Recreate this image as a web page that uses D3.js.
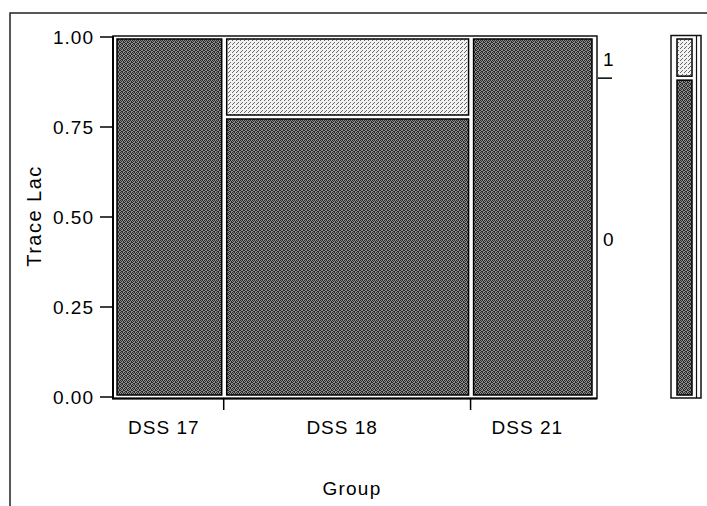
<!DOCTYPE html>
<html>
<head>
<meta charset="utf-8">
<script src="https://cdn.jsdelivr.net/npm/d3@7"></script>
<style>
  html, body { margin: 0; padding: 0; background: #fff; }
  svg { display: block; }
  text { font-family: "Liberation Sans", Arial, sans-serif; fill: #000; }
</style>
</head>
<body>
<div id="chart"></div>
<script>
// ---- data ----
const groups = ["DSS 17", "DSS 18", "DSS 21"];
const levels = ["0", "1"];                 // Trace Lac levels (bottom to top)
const counts0 = [8, 14, 9];                // Trace Lac = 0
const counts1 = [0, 4, 0];                 // Trace Lac = 1
const yTicks = [0, 0.25, 0.5, 0.75, 1.0];
const yTickLabels = ["0.00", "0.25", "0.50", "0.75", "1.00"];
const xTitle = "Group";
const yTitle = "Trace Lac";

// ---- derived ----
const totals = groups.map((g, i) => counts0[i] + counts1[i]);
const N = d3.sum(totals);
let acc = 0;
const cols = groups.map((g, i) => {
  const c = { name: g, start: acc, n: totals[i], c0: counts0[i], c1: counts1[i] };
  acc += totals[i];
  return c;
});
const marg0 = d3.sum(counts0) / N;

const W = 707, H = 506;
const svg = d3.select("#chart").append("svg").attr("width", W).attr("height", H);

// patterns (dither look)
const defs = svg.append("defs");
const pd = defs.append("pattern").attr("id", "dark").attr("width", 4).attr("height", 4)
  .attr("patternUnits", "userSpaceOnUse");
pd.append("rect").attr("width", 4).attr("height", 4).attr("fill", "#8c8c8c");
[[0,0],[2,0],[1,1],[3,2],[0,2],[2,3],[1,3],[3,1]].forEach(([a,b]) =>
  pd.append("rect").attr("x", a).attr("y", b).attr("width", 1).attr("height", 1).attr("fill", "#2a2a2a"));
const pl = defs.append("pattern").attr("id", "light").attr("width", 4).attr("height", 4)
  .attr("patternUnits", "userSpaceOnUse");
pl.append("rect").attr("width", 4).attr("height", 4).attr("fill", "#f2f2f2");
[[0,0],[2,2],[1,3]].forEach(([a,b]) =>
  pl.append("rect").attr("x", a).attr("y", b).attr("width", 1).attr("height", 1).attr("fill", "#6a6a6a"));

// outer frame
svg.append("path").attr("d", `M10,506 L10,13 L707,13`).attr("fill", "none")
  .attr("stroke", "#222").attr("stroke-width", 1.5);

// scales
const x = d3.scaleLinear().domain([0, N]).range([114, 594]);
const y = d3.scaleLinear().domain([0, 1]).range([397, 37]);
const inset = 2;

// plot box
svg.append("rect").attr("x", 113).attr("y", 36).attr("width", 484).attr("height", 362.5)
  .attr("fill", "#fff").attr("stroke", "#111").attr("stroke-width", 1.5);
svg.append("path").attr("d", "M113,36 L113,398.5 L597,398.5").attr("fill", "none")
  .attr("stroke", "#000").attr("stroke-width", 2);

// cells
const cells = [];
cols.forEach(c => {
  const f0 = c.c0 / c.n, f1 = c.c1 / c.n;
  if (f0 > 0) cells.push({ col: c, lo: 0, hi: f0, lvl: 0 });
  if (f1 > 0) cells.push({ col: c, lo: f0, hi: f0 + f1, lvl: 1 });
});
svg.append("g").selectAll("rect").data(cells).join("rect")
  .attr("x", d => x(d.col.start) + inset + 1)
  .attr("width", d => x(d.col.start + d.col.n) - x(d.col.start) - 2 * inset - 1)
  .attr("y", d => y(d.hi) + inset)
  .attr("height", d => y(d.lo) - y(d.hi) - 2 * inset)
  .attr("fill", d => d.lvl === 0 ? "url(#dark)" : "url(#light)")
  .attr("stroke", "#000").attr("stroke-width", 1.5);

// y axis ticks + labels
const ya = svg.append("g");
ya.selectAll("line").data(yTicks).join("line")
  .attr("x1", 100).attr("x2", 113).attr("y1", d => y(d)).attr("y2", d => y(d))
  .attr("stroke", "#000").attr("stroke-width", 1.5);
ya.selectAll("text").data(yTicks).join("text")
  .attr("x", 94).attr("y", d => y(d)).attr("dy", "0.35em")
  .attr("text-anchor", "end").attr("font-size", 19).attr("letter-spacing", 1)
  .text((d, i) => yTickLabels[i]);

// x axis ticks (boundaries between groups)
const bounds = cols.slice(1).map(c => c.start);
svg.append("g").selectAll("line").data(bounds).join("line")
  .attr("x1", d => x(d)).attr("x2", d => x(d)).attr("y1", 398).attr("y2", 410)
  .attr("stroke", "#000").attr("stroke-width", 1.5);
svg.append("g").selectAll("text").data(cols).join("text")
  .attr("x", d => x(d.start + d.n / 2) - 5).attr("y", 427).attr("dy", "0.35em")
  .attr("text-anchor", "middle").attr("font-size", 19).attr("letter-spacing", 1)
  .text(d => d.name);

// right axis (marginal)
svg.append("line").attr("x1", 598).attr("x2", 612).attr("y1", y(marg0)).attr("y2", y(marg0))
  .attr("stroke", "#000").attr("stroke-width", 1.5);
const rlab = [
  { t: levels[1], v: (1 + marg0) / 2 },
  { t: levels[0], v: marg0 / 2 }
];
svg.append("g").selectAll("text").data(rlab).join("text")
  .attr("x", 603).attr("y", d => y(d.v) + 2).attr("dy", "0.35em")
  .attr("font-size", 19).text(d => d.t);

// titles
svg.append("text").attr("x", 352).attr("y", 488).attr("dy", "0.35em")
  .attr("text-anchor", "middle").attr("font-size", 19).attr("letter-spacing", 1.2).text(xTitle);
svg.append("text").attr("transform", "translate(34,216) rotate(-90)").attr("dy", "0.35em")
  .attr("text-anchor", "middle").attr("font-size", 20).attr("letter-spacing", 1.5).text(yTitle);

// legend bar (overall marginal)
const lg = svg.append("g");
lg.append("rect").attr("x", 671).attr("y", 35.5).attr("width", 30).attr("height", 362.5)
  .attr("fill", "#fff").attr("stroke", "#111").attr("stroke-width", 1.5);
lg.append("line").attr("x1", 696.5).attr("x2", 696.5).attr("y1", 35.5).attr("y2", 398)
  .attr("stroke", "#111").attr("stroke-width", 1.2);
const lcells = [{ lo: 0, hi: marg0, lvl: 0 }, { lo: marg0, hi: 1, lvl: 1 }];
lg.selectAll("rect.c").data(lcells).join("rect").attr("class", "c")
  .attr("x", 677).attr("width", 15)
  .attr("y", d => y(d.hi) + inset)
  .attr("height", d => y(d.lo) - y(d.hi) - 2 * inset)
  .attr("fill", d => d.lvl === 0 ? "url(#dark)" : "url(#light)")
  .attr("stroke", "#000").attr("stroke-width", 1.5);
</script>
</body>
</html>
